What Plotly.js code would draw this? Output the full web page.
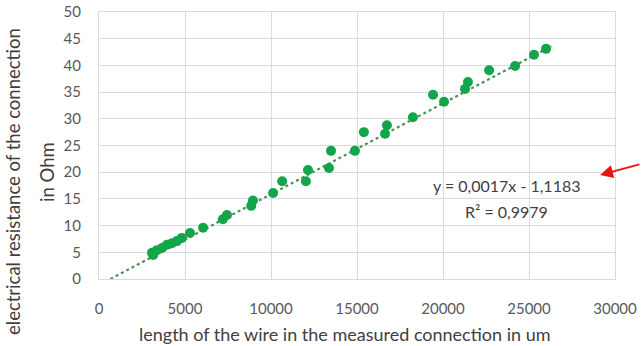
<!DOCTYPE html>
<html>
<head>
<meta charset="utf-8">
<script src="https://cdn.plot.ly/plotly-3.0.1.min.js"></script>
<style>html,body{margin:0;padding:0;background:#fff;}#chart{width:641px;height:346px;}</style>
</head>
<body>
<div id="chart"></div>
<script>
// Measured points: wire length (um) vs resistance (Ohm)
const wireLength = [3080, 3150, 3370, 3660, 3950, 4240, 4530, 4820, 5290, 6050, 7200, 7440, 8850, 8950,
  10120, 10650, 12030, 12150, 13370, 13490, 14880, 15400, 16630, 16740, 18250, 19420, 20060,
  21280, 21450, 22680, 24190, 25290, 25990];
const resistance = [4.9, 4.5, 5.4, 5.8, 6.4, 6.7, 7.1, 7.7, 8.6, 9.6, 11.2, 12.0, 13.7, 14.7,
  16.1, 18.3, 18.3, 20.4, 20.8, 24.0, 24.0, 27.5, 27.2, 28.8, 30.3, 34.5, 33.2,
  35.6, 36.9, 39.1, 39.9, 42.0, 43.1];
// Linear trendline end points
const trendX = [660, 26300];
const trendY = [0, 43.6];
const xTicks = [0, 5000, 10000, 15000, 20000, 25000, 30000];
const yTicks = [0, 5, 10, 15, 20, 25, 30, 35, 40, 45, 50];
const eqText = "y = 0,0017x - 1,1183";
const r2Text = "R² = 0,9979";
const xTitle = "length of the wire in the measured connection in um";
const yTitle1 = "electrical resistance of the connection";
const yTitle2 = "in Ohm";

const font = "Lato, 'Open Sans', sans-serif";
const grid = "#d9d9ea";

const traces = [
  {x: trendX, y: trendY, mode: "lines", type: "scatter",
   line: {color: "#4f8f5f", width: 2.2, dash: "dot"}, hoverinfo: "skip"},
  {x: wireLength, y: resistance, mode: "markers", type: "scatter",
   marker: {color: "#13a54a", size: 10}}
];

function note(x, y, text, size, extra) {
  return Object.assign({xref: "paper", yref: "paper", x: x, y: y, text: text,
    showarrow: false, xanchor: "center", yanchor: "middle",
    font: {family: font, size: size, color: "#404040"}}, extra || {});
}

const layout = {
  width: 641, height: 346,
  margin: {l: 99, r: 26, t: 12, b: 67},
  paper_bgcolor: "#fff", plot_bgcolor: "#fff",
  showlegend: false,
  font: {family: font, size: 15, color: "#595959"},
  xaxis: {range: [0, 30000], tickvals: xTicks, ticktext: xTicks.map(String),
    showgrid: true, gridcolor: grid, zeroline: false,
    showline: true, mirror: true, linecolor: grid, linewidth: 1,
    ticks: "", ticklabelstandoff: 16, tickfont: {size: 15, color: "#595959"}},
  yaxis: {range: [0, 50], tickvals: yTicks,
    showgrid: true, gridcolor: grid, zeroline: false,
    showline: true, mirror: true, linecolor: grid, linewidth: 1,
    ticks: "", ticklabelstandoff: 14, tickfont: {size: 15, color: "#595959"}},
  annotations: [
    note((507 - 99) / 516, (279 - 185) / 267, eqText, 16),
    note((506 - 99) / 516, (279 - 211) / 267, r2Text, 16),
    note((344 - 99) / 516, -(334 - 279) / 267, xTitle, 18),
    note((13 - 99) / 516, (279 - 182) / 267, yTitle1, 18.5, {textangle: -90}),
    note((47 - 99) / 516, (279 - 172) / 267, yTitle2, 18.5, {textangle: -90}),
    {xref: "paper", yref: "paper", x: (600 - 99) / 516, y: (279 - 175) / 267, text: "",
     showarrow: true, arrowhead: 2, arrowsize: 1.3, arrowwidth: 2, arrowcolor: "#ee1111",
     ax: 42, ay: -11}
  ]
};

Plotly.newPlot("chart", traces, layout, {staticPlot: true, displayModeBar: false});
</script>
</body>
</html>
